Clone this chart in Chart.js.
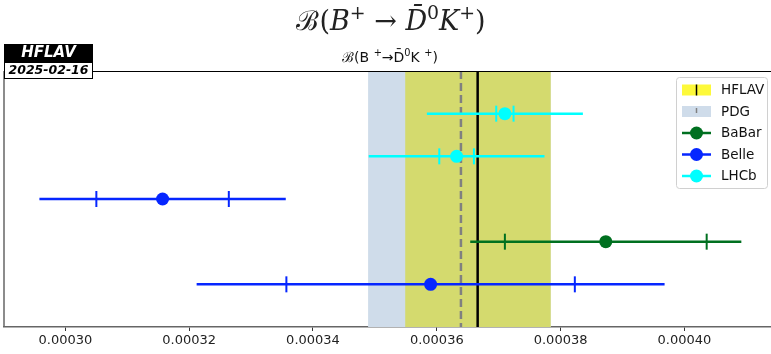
<!DOCTYPE html>
<html><head><meta charset="utf-8">
<script src="https://cdn.jsdelivr.net/npm/chart.js@4.4.1/dist/chart.umd.min.js"></script>
<style>html,body{margin:0;padding:0;background:#fff;overflow:hidden}canvas{display:block}</style>
</head><body>
<canvas id="c" width="771" height="354"></canvas>
<script>
// ---- data ----
const experiments = ['BaBar', 'Belle', 'LHCb'];
const expColors = ['#007020', '#0626ff', '#00ffff'];
const measExp = ['LHCb', 'LHCb', 'Belle', 'BaBar', 'Belle'];
const measRow = [1, 2, 3, 4, 5];
const measValue = [0.0003710, 0.0003632, 0.0003157, 0.0003873, 0.0003590];
const measStat  = [0.0000014, 0.0000028, 0.0000107, 0.0000163, 0.0000233];
const measTotal = [0.0000126, 0.0000142, 0.0000199, 0.0000219, 0.0000378];
const hflavValue = 0.0003666, hflavErrLo = 0.0000117, hflavErrHi = 0.0000118;
const pdgValue = 0.0003639, pdgErrLo = 0.0000150, pdgErrHi = 0.0000145;
const xTicks = [0.00030, 0.00032, 0.00034, 0.00036, 0.00038, 0.00040];
const xRange = [0.00029008, 0.00041383];
const logoName = 'HFLAV', logoDate = '2025-02-16';
const legendItems = ['HFLAV', 'PDG', 'BaBar', 'Belle', 'LHCb'];

const datasets = experiments.map((e, k) => ({
  label: e,
  data: measRow.map((r, i) => ({x: measValue[i], y: r, i})).filter(p => measExp[p.i] === e),
  backgroundColor: expColors[k],
  borderColor: expColors[k],
  borderWidth: 0,
  pointRadius: 6.5,
  pointHoverRadius: 6.5
}));

function drawRich(ctx, segs, cx, baseline, size, family) {
  const f = s => (s.i ? 'italic ' : '') + (s.sup ? size * 0.7 : size) + 'px ' + (s.f || family);
  let w = 0;
  segs.forEach(s => { ctx.font = f(s); s.w = ctx.measureText(s.t).width; w += s.w; });
  let x = cx - w / 2;
  ctx.textAlign = 'left'; ctx.textBaseline = 'alphabetic';
  segs.forEach(s => { ctx.font = f(s); ctx.fillText(s.t, x, baseline - (s.sup ? size * 0.42 : 0)); x += s.w; });
}

const decor = {
  id: 'decor',
  beforeDatasetsDraw(chart) {
    const {ctx, chartArea: a, scales: {x, y}} = chart;
    ctx.save();
    ctx.beginPath(); ctx.rect(a.left, a.top, a.right - a.left, a.bottom - a.top); ctx.clip();
    ctx.fillStyle = '#cfdcea';
    let l = x.getPixelForValue(pdgValue - pdgErrLo), r = x.getPixelForValue(pdgValue + pdgErrHi);
    ctx.fillRect(l, a.top, r - l, a.bottom - a.top);
    ctx.fillStyle = '#d4da6e';
    l = x.getPixelForValue(hflavValue - hflavErrLo); r = x.getPixelForValue(hflavValue + hflavErrHi);
    ctx.fillRect(l, a.top, r - l, a.bottom - a.top);
    ctx.strokeStyle = '#808080'; ctx.lineWidth = 2.5; ctx.setLineDash([8, 4]);
    let px = x.getPixelForValue(pdgValue);
    ctx.beginPath(); ctx.moveTo(px, a.top); ctx.lineTo(px, a.bottom); ctx.stroke();
    ctx.setLineDash([]);
    ctx.strokeStyle = '#000';
    px = x.getPixelForValue(hflavValue);
    ctx.beginPath(); ctx.moveTo(px, a.top); ctx.lineTo(px, a.bottom); ctx.stroke();
    measRow.forEach((row, i) => {
      const col = expColors[experiments.indexOf(measExp[i])];
      const py = y.getPixelForValue(row);
      ctx.strokeStyle = col; ctx.lineWidth = 2.5;
      ctx.beginPath();
      ctx.moveTo(x.getPixelForValue(measValue[i] - measTotal[i]), py);
      ctx.lineTo(x.getPixelForValue(measValue[i] + measTotal[i]), py);
      ctx.stroke();
      ctx.lineWidth = 2;
      [measValue[i] - measStat[i], measValue[i] + measStat[i]].forEach(v => {
        const cx = x.getPixelForValue(v);
        ctx.beginPath(); ctx.moveTo(cx, py - 8); ctx.lineTo(cx, py + 8); ctx.stroke();
      });
    });
    ctx.restore();
  },
  afterDraw(chart) {
    const {ctx, chartArea: a} = chart;
    ctx.save();
    ctx.strokeStyle = '#000'; ctx.lineWidth = 1.2;
    ctx.beginPath(); ctx.moveTo(a.left, a.top + 0.5); ctx.lineTo(a.right + 2, a.top + 0.5); ctx.stroke();
    ctx.strokeStyle = '#666'; ctx.lineWidth = 1.5;
    ctx.beginPath(); ctx.moveTo(a.left, a.top); ctx.lineTo(a.left, a.bottom); ctx.stroke();
    ctx.fillStyle = '#222';
    drawRich(ctx, [{t:'ℬ'},{t:'('},{t:'B',i:1},{t:'+',sup:1},{t:' → '},{t:'D\u0304',i:1},{t:'0',sup:1},{t:'K',i:1},{t:'+',sup:1},{t:')'}], 391, 30, 27, '"DejaVu Serif"');
    ctx.fillStyle = '#111';
    drawRich(ctx, [{t:'ℬ',f:'"DejaVu Serif"'},{t:'('},{t:'B '},{t:'+',sup:1},{t:'→'},{t:'D\u0304'},{t:'0',sup:1},{t:'K '},{t:'+',sup:1},{t:')'}], 390, 62, 14, '"DejaVu Sans"');
    ctx.fillStyle = '#000'; ctx.fillRect(4, 44, 89, 18);
    ctx.fillStyle = '#fff'; ctx.fillRect(4, 62, 89, 17);
    ctx.strokeStyle = '#000'; ctx.lineWidth = 1; ctx.strokeRect(4.5, 62.5, 88, 16);
    ctx.textAlign = 'center'; ctx.textBaseline = 'middle';
    ctx.fillStyle = '#fff'; ctx.font = 'italic bold 15px "DejaVu Sans"';
    ctx.fillText(logoName, 48.5, 53.5);
    ctx.fillStyle = '#000'; ctx.font = 'italic bold 12.5px "DejaVu Sans"';
    ctx.fillText(logoDate, 48.5, 71);
    const lx = 676.5, ly = 77.5, lw = 91, lh = 111;
    ctx.fillStyle = 'rgba(255,255,255,0.9)'; ctx.strokeStyle = '#d0d0d0'; ctx.lineWidth = 1;
    ctx.beginPath(); ctx.roundRect(lx, ly, lw, lh, 3); ctx.fill(); ctx.stroke();
    const ys = [90, 111.5, 133, 154.5, 176];
    legendItems.forEach((name, k) => {
      const yy = ys[k];
      if (name === 'HFLAV' || name === 'PDG') {
        ctx.fillStyle = name === 'HFLAV' ? '#fdf93a' : '#cfdcea';
        ctx.fillRect(682, yy - 5.5, 29, 11);
        ctx.strokeStyle = name === 'HFLAV' ? '#000' : '#808080'; ctx.lineWidth = 1.5;
        ctx.beginPath();
        if (name === 'HFLAV') { ctx.moveTo(696.5, yy - 5.5); ctx.lineTo(696.5, yy + 5.5); }
        else { ctx.moveTo(696.5, yy - 3.5); ctx.lineTo(696.5, yy + 1.5); }
        ctx.stroke();
      } else {
        const col = expColors[experiments.indexOf(name)];
        ctx.strokeStyle = col; ctx.lineWidth = 2.5;
        ctx.beginPath(); ctx.moveTo(682, yy); ctx.lineTo(711, yy); ctx.stroke();
        ctx.fillStyle = col; ctx.beginPath(); ctx.arc(696.5, yy, 6.5, 0, Math.PI * 2); ctx.fill();
      }
      ctx.fillStyle = '#111'; ctx.font = '13.5px "DejaVu Sans"'; ctx.textAlign = 'left'; ctx.textBaseline = 'middle';
      ctx.fillText(name, 721, yy + 0.5);
    });
    ctx.restore();
  }
};

new Chart(document.getElementById('c'), {
  type: 'scatter',
  data: {datasets},
  options: {
    responsive: false,
    devicePixelRatio: 1,
    animation: false,
    events: [],
    layout: {autoPadding: false, padding: {top: 71, left: 4, right: 1, bottom: 0}},
    plugins: {legend: {display: false}, title: {display: false}, tooltip: {enabled: false}},
    scales: {
      x: {
        type: 'linear', min: xRange[0], max: xRange[1],
        afterBuildTicks: s => { s.ticks = xTicks.map(v => ({value: v})); },
        afterFit: s => { s.height = 27; },
        grid: {display: true, drawOnChartArea: false, drawTicks: true, tickLength: 4, tickColor: '#333', tickWidth: 1},
        border: {display: true, color: '#666', width: 1.5},
        ticks: {font: {family: 'DejaVu Sans', size: 13}, color: '#222', padding: 2, maxRotation: 0, autoSkip: false,
          callback: v => Number(v).toFixed(5)}
      },
      y: {type: 'linear', min: 0, max: 6, reverse: true, display: false}
    }
  },
  plugins: [decor]
});
</script>
</body></html>
